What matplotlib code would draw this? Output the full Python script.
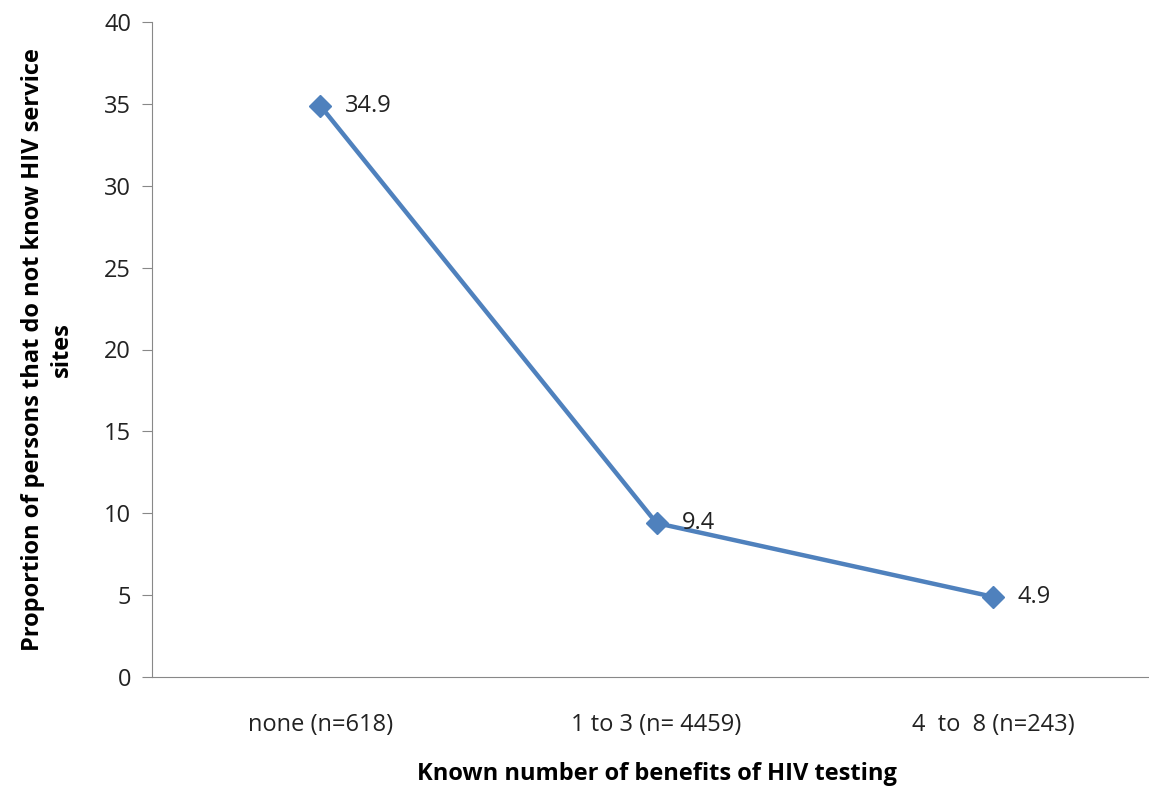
import matplotlib.pyplot as plt

# data
categories = ['none (n=618)', '1 to 3 (n= 4459)', '4  to  8 (n=243)']
proportions = [34.9, 9.4, 4.9]
y_ticks = [0, 5, 10, 15, 20, 25, 30, 35, 40]

plt.rcParams['font.family'] = ['Open Sans', 'DejaVu Sans']

fig = plt.figure(figsize=(11.49, 7.90), dpi=100)
ax = fig.add_axes([152 / 1149, 1 - 677 / 790, (1161 - 152) / 1149, (677 - 22) / 790])

x = list(range(len(categories)))
ax.plot(x, proportions, color='#4F81BD', linewidth=3.2, marker='D',
        markersize=11, markerfacecolor='#4F81BD', markeredgecolor='#4F81BD')

# value labels to the right of each point
for xi, v in zip(x, proportions):
    ax.annotate(f'{v}', (xi, v), xytext=(18, 0), textcoords='offset points',
                va='center', ha='left', fontsize=17, color='#222222')

ax.set_xlim(-0.5, 2.5)
ax.set_ylim(0, 40)
ax.set_yticks(y_ticks)
ax.set_xticks(x)
ax.set_xticklabels(categories, fontsize=17, color='#222222')
ax.tick_params(axis='x', length=0, pad=26)
ax.tick_params(axis='y', length=7, direction='out', colors='#888888',
               labelcolor='#222222', labelsize=17, pad=8)

for side in ['top', 'right']:
    ax.spines[side].set_visible(False)
ax.spines['left'].set_color('#888888')
ax.spines['bottom'].set_color('#888888')

ax.set_ylabel('Proportion of persons that do not know HIV service\nsites',
              fontsize=17, fontweight='bold', linespacing=1.25, labelpad=22)
ax.set_xlabel('Known number of benefits of HIV testing', fontsize=17,
              fontweight='bold', labelpad=18)

fig.savefig('out.png', dpi=100)
